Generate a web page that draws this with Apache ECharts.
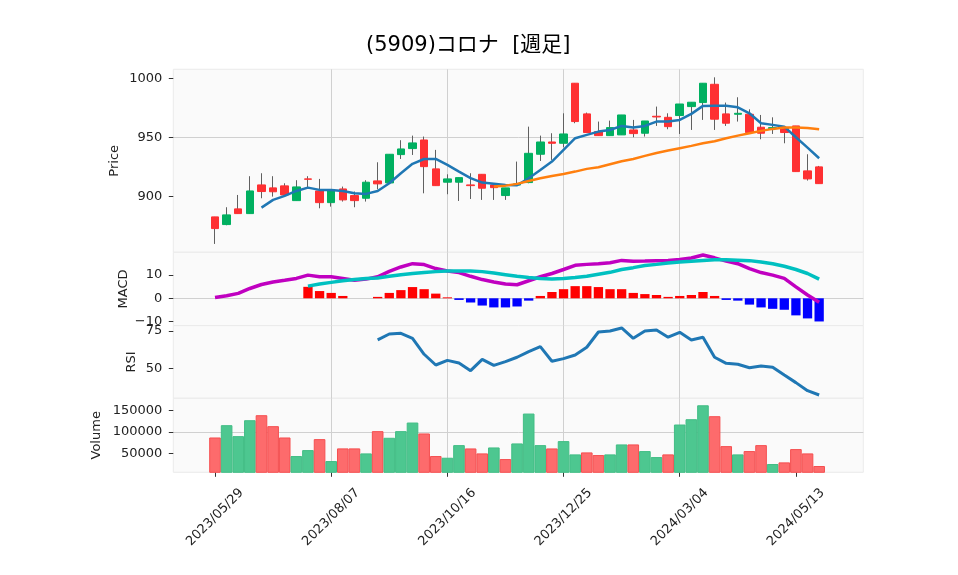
<!DOCTYPE html>
<html>
<head>
<meta charset="utf-8">
<script src="https://cdn.jsdelivr.net/npm/echarts@6/dist/echarts.min.js"></script>
<style>
html, body { margin: 0; padding: 0; background: #fff; }
#chart { width: 958px; height: 575px; }
</style>
</head>
<body>
<div id="chart"></div>
<script>
var dates = [
    '2023/05/29', '2023/06/05', '2023/06/12', '2023/06/19', '2023/06/26', '2023/07/03', '2023/07/10', '2023/07/17',
    '2023/07/24', '2023/07/31', '2023/08/07', '2023/08/14', '2023/08/21', '2023/08/28', '2023/09/04', '2023/09/11',
    '2023/09/18', '2023/09/25', '2023/10/02', '2023/10/09', '2023/10/16', '2023/10/23', '2023/10/30', '2023/11/06',
    '2023/11/13', '2023/11/20', '2023/11/27', '2023/12/04', '2023/12/11', '2023/12/18', '2023/12/25', '2024/01/01',
    '2024/01/08', '2024/01/15', '2024/01/22', '2024/01/29', '2024/02/05', '2024/02/12', '2024/02/19', '2024/02/26',
    '2024/03/04', '2024/03/11', '2024/03/18', '2024/03/25', '2024/04/01', '2024/04/08', '2024/04/15', '2024/04/22',
    '2024/04/29', '2024/05/06', '2024/05/13', '2024/05/20', '2024/05/27'
];
var tickIdx = [0, 10, 20, 30, 40, 50];

var openP = [882.5, 876.0, 889.3, 885.3, 909.6, 907.1, 908.8, 896.3, 914.7, 904.5, 894.6, 906.2, 900.6, 898.3, 913.0, 911.3,
    935.3, 940.4, 947.7, 923.2, 911.9, 911.9, 909.6, 918.6, 909.6, 900.6, 909.5, 911.6, 935.6, 946.0, 944.9, 995.8,
    969.8, 954.8, 951.4, 952.0, 956.2, 953.4, 967.8, 966.9, 968.4, 976.0, 979.4, 994.9, 969.8, 969.5, 969.5, 958.5,
    957.3, 957.6, 959.6, 921.5, 924.9];
var closeP = [872.6, 884.2, 885.3, 904.5, 904.0, 903.8, 901.1, 907.9, 914.4, 894.6, 904.5, 896.9, 896.3, 911.9, 910.5, 935.6,
    940.1, 945.2, 925.1, 909.0, 914.7, 915.8, 909.0, 906.8, 907.3, 907.1, 910.5, 936.4, 946.0, 944.9, 952.8, 963.3,
    954.0, 951.4, 958.2, 968.9, 953.1, 963.8, 967.2, 959.0, 978.2, 979.7, 995.8, 965.3, 961.9, 970.3, 954.0, 953.4,
    958.2, 954.0, 920.9, 914.7, 910.7];
var lowP = [859.6, 875.4, 885.3, 885.3, 898.3, 899.7, 901.1, 896.3, 907.6, 889.8, 891.2, 895.5, 890.7, 895.5, 905.9, 911.3,
    931.6, 935.0, 902.5, 909.0, 901.7, 896.0, 897.7, 896.9, 896.9, 896.9, 909.0, 911.0, 929.9, 930.8, 941.5, 961.9,
    954.0, 951.4, 951.4, 952.0, 950.0, 950.6, 959.6, 956.8, 952.8, 956.2, 964.7, 956.2, 959.6, 963.3, 954.0, 948.3,
    952.8, 944.9, 920.9, 913.3, 910.7];
var highP = [882.5, 890.7, 901.1, 917.0, 919.5, 917.0, 911.0, 913.6, 917.0, 914.7, 904.5, 908.2, 904.0, 913.6, 928.8, 935.6,
    947.5, 951.4, 950.6, 939.3, 918.6, 915.8, 919.5, 918.6, 909.6, 907.1, 929.4, 959.0, 951.4, 953.4, 970.3, 995.8,
    970.9, 963.3, 964.1, 968.9, 964.7, 963.8, 976.0, 970.3, 978.2, 979.7, 995.8, 1000.8, 979.4, 983.9, 973.7, 968.9,
    966.9, 957.6, 959.6, 935.6, 925.7];
var volume = [86900, 115400, 90000, 126900, 138500, 113100, 86900, 43900, 57700, 83100, 32300, 61600, 61600, 50000,
    101600, 86200, 101600, 121500, 96200, 43900, 40000, 69200, 61500, 50000, 63800, 36900, 73100, 142300, 69200,
    61500, 78500, 47700, 52300, 46200, 47700, 70800, 70800, 55400, 41500, 47700, 116900, 129200, 161500, 136200,
    66900, 47700, 55400, 69200, 25400, 29200, 60000, 50000, 20800];

var ma5 = [null, null, null, null, 890.4, 896.9, 900.3, 904.5, 907.3, 905.4, 905.4, 904.5, 902.5, 902.0, 904.5, 911.0,
    919.5, 927.5, 931.6, 931.6, 926.6, 920.9, 915.3, 911.6, 910.7, 909.6, 909.3, 915.3, 922.3, 929.4, 939.3, 949.2,
    952.0, 954.8, 956.2, 959.6, 958.2, 959.6, 963.3, 963.3, 964.7, 969.8, 976.6, 976.8, 976.8, 975.4, 970.3, 961.9,
    960.5, 959.0, 950.0, 941.2, 932.2];
var ma25 = [null, null, null, null, null, null, null, null, null, null, null, null, null, null, null, null,
    null, null, null, null, null, null, null, null, 908.2, 909.0, 910.5, 913.0, 915.3, 917.2, 918.9, 920.9,
    923.2, 924.6, 927.1, 929.6, 931.6, 934.2, 936.7, 938.7, 940.7, 942.7, 944.9, 946.6, 949.2, 951.4, 953.4, 955.4,
    957.1, 958.2, 958.2, 957.9, 956.8];

var macd = [0.3, 1.1, 2.1, 4.2, 5.9, 7.0, 7.7, 8.5, 9.9, 9.2, 9.2, 8.5, 7.7, 8.2, 9.2, 11.5, 13.4, 14.8, 14.4, 12.7,
    11.7, 11.0, 9.4, 8.0, 7.0, 6.1, 5.8, 7.5, 9.2, 10.6, 12.3, 14.1, 14.5, 14.8, 15.2, 16.2, 15.8, 15.9, 16.1, 16.2,
    16.6, 17.2, 18.5, 17.3, 15.9, 14.8, 12.7, 11.0, 9.9, 8.5, 4.9, 1.4, -1.7];
var signal = [null, null, null, null, null, null, null, null, 5.2, 6.1, 6.8, 7.5, 8.0, 8.5, 8.7, 9.4, 10.1, 10.6, 11.0,
    11.4, 11.7, 11.7, 11.7, 11.4, 10.8, 10.1, 9.4, 8.9, 8.5, 8.3, 8.5, 8.9, 9.4, 10.3, 11.1, 12.3, 13.1, 14.0, 14.5,
    15.1, 15.5, 15.8, 16.2, 16.5, 16.5, 16.3, 16.1, 15.5, 14.8, 13.7, 12.3, 10.6, 8.2];
var hist = [null, null, null, null, null, null, null, null, 4.9, 3.1, 2.3, 1.0, 0, 0, 0.6, 2.3, 3.5, 4.8, 3.9, 2.0,
    0.4, -0.7, -1.8, -3.1, -3.9, -3.9, -3.5, -1.0, 1.0, 2.7, 3.9, 5.2, 5.2, 4.8, 3.9, 3.9, 2.3, 1.8, 1.4, 0.6,
    1.0, 1.4, 2.7, 1.0, -0.7, -1.0, -2.7, -3.9, -4.5, -4.9, -7.3, -8.6, -9.9];
var rsi = [null, null, null, null, null, null, null, null, null, null, null, null, null, null, 69.0, 73.0, 73.4, 70.1,
    59.4, 52.2, 55.3, 53.5, 48.4, 56.0, 52.0, 54.5, 57.4, 61.2, 64.5, 54.7, 56.5, 58.9, 64.1, 74.3, 75.0, 77.0,
    70.1, 75.0, 75.7, 70.8, 74.1, 69.0, 70.8, 57.4, 53.3, 52.7, 50.4, 51.6, 50.7, 45.5, 40.4, 35.0, 32.1];

var priceTicks = [900, 950, 1000];
var macdTicks = [-10, 0, 10];
var rsiTicks = [50, 75];
var volumeTicks = [50000, 100000, 150000];

(function () {
    'use strict';

    var FONT = "'DejaVu Sans', 'Noto Sans CJK JP', sans-serif";
    var GRID_COLOR = '#d0d0d0';
    var TEXT_COLOR = '#222';
    var X_MIN = -3.59;
    var X_MAX = 55.8;

    var chart = echarts.init(document.getElementById('chart'), null, {renderer: 'canvas'});
    chart.setOption(buildOption());

    function toXY(arr) {
        var out = [];
        for (var i = 0; i < arr.length; i++) {
            if (arr[i] !== null && arr[i] !== undefined) {
                out.push([i, arr[i]]);
            }
        }
        return out;
    }

    function fmtNum(v) {
        return v < 0 ? '\u2212' + (-v) : String(v);
    }

    function buildGrid(top, height) {
        return {
            left: 173.3, right: 94.7, top: top, height: height,
            show: true, backgroundColor: '#fafafa', borderColor: '#ebebeb', borderWidth: 1,
            containLabel: false, outerBoundsMode: 'none'
        };
    }

    function buildXAxis(gridIndex, withLabels) {
        return {
            type: 'value', gridIndex: gridIndex, min: X_MIN, max: X_MAX,
            minInterval: 10, maxInterval: 10,
            axisLine: {show: false, onZero: false},
            axisTick: {
                show: withLabels, customValues: tickIdx, length: 4.5,
                lineStyle: {color: '#333', width: 1}
            },
            axisLabel: {
                show: withLabels, customValues: tickIdx, rotate: 45, align: 'center', verticalAlign: 'middle',
                margin: 45, fontSize: 13, color: TEXT_COLOR, fontFamily: FONT,
                formatter: function (v) {
                    return tickIdx.indexOf(v) >= 0 ? dates[v] : '';
                }
            },
            splitLine: {show: true, showMinLine: false, showMaxLine: false, lineStyle: {color: GRID_COLOR, width: 1}}
        };
    }

    function buildYAxis(gridIndex, name, nameGap, min, max, step, ticks) {
        return {
            type: 'value', gridIndex: gridIndex, min: min, max: max,
            minInterval: step, maxInterval: step,
            name: name, nameLocation: 'middle', nameRotate: 90, nameGap: nameGap, nameMoveOverlap: false,
            nameTextStyle: {fontSize: 13, color: TEXT_COLOR, fontFamily: FONT},
            axisLine: {show: false, onZero: false},
            axisTick: {show: true, customValues: ticks, length: 4.5, lineStyle: {color: '#333', width: 1}},
            axisLabel: {
                show: true, customValues: ticks, margin: 11, fontSize: 13, color: TEXT_COLOR, fontFamily: FONT,
                formatter: function (v) {
                    return ticks.indexOf(v) >= 0 ? fmtNum(v) : '';
                }
            },
            splitLine: {show: true, showMinLine: false, showMaxLine: false, lineStyle: {color: GRID_COLOR, width: 1}}
        };
    }

    function buildCandles() {
        var wicks = [], bodies = [];
        for (var i = 0; i < dates.length; i++) {
            wicks.push([i, openP[i], closeP[i], lowP[i], highP[i]]);
            bodies.push([i, openP[i], closeP[i], Math.min(openP[i], closeP[i]), Math.max(openP[i], closeP[i])]);
        }
        return {wicks: wicks, bodies: bodies};
    }

    function buildVolume() {
        var out = [];
        for (var i = 0; i < volume.length; i++) {
            var up = i === 0 ? closeP[i] >= openP[i] : closeP[i] >= closeP[i - 1];
            out.push({
                value: [i, volume[i]],
                itemStyle: {
                    color: up ? '#4dc790' : '#fd6b6c',
                    borderColor: up ? '#42bd85' : '#f54f50',
                    borderWidth: 1
                }
            });
        }
        return out;
    }

    function buildHist() {
        var out = [];
        for (var i = 0; i < hist.length; i++) {
            if (hist[i] === null) {
                continue;
            }
            out.push({
                value: [i, hist[i]],
                itemStyle: {color: hist[i] >= 0 ? '#ff0000' : '#0000ff'}
            });
        }
        return out;
    }

    function lineSerie(data, xi, yi, color, width) {
        return {
            type: 'line', xAxisIndex: xi, yAxisIndex: yi, data: toXY(data),
            showSymbol: false, symbol: 'none', smooth: false,
            lineStyle: {color: color, width: width}, z: 5
        };
    }

    function buildOption() {
        var candles = buildCandles();
        return {
            animation: false,
            backgroundColor: '#ffffff',
            textStyle: {fontFamily: FONT},
            title: {
                text: '(5909)コロナ  [週足]',
                left: 361, top: 30,
                textStyle: {fontSize: 21, fontWeight: 'normal', color: '#000', fontFamily: FONT}
            },
            grid: [
                buildGrid(69.3, 183),
                buildGrid(252.3, 73.3),
                buildGrid(325.6, 72.7),
                buildGrid(398.3, 74)
            ],
            xAxis: [
                buildXAxis(0, false),
                buildXAxis(1, false),
                buildXAxis(2, false),
                buildXAxis(3, true)
            ],
            yAxis: [
                buildYAxis(0, 'Price', 51.8, 852.5, 1007.6, 50, priceTicks),
                buildYAxis(1, 'MACD', 43.3, -11.67, 19.66, 10, macdTicks),
                buildYAxis(2, 'RSI', 35.3, 29.9, 78.6, 25, rsiTicks),
                buildYAxis(3, 'Volume', 70.3, 6240, 177650, 50000, volumeTicks)
            ],
            series: [
                {
                    type: 'candlestick', xAxisIndex: 0, yAxisIndex: 0, data: candles.wicks, barWidth: 1,
                    itemStyle: {
                        color: '#606060', color0: '#606060', borderColor: '#606060',
                        borderColor0: '#606060', borderColorDoji: '#606060', borderWidth: 1
                    },
                    z: 2
                },
                {
                    type: 'candlestick', xAxisIndex: 0, yAxisIndex: 0, data: candles.bodies, barWidth: 8,
                    itemStyle: {
                        color: '#00b060', color0: '#fe3032', borderColor: '#00b060',
                        borderColor0: '#fe3032', borderColorDoji: '#fe3032', borderWidth: 1
                    },
                    z: 3
                },
                lineSerie(ma5, 0, 0, '#1f77b4', 2.5),
                lineSerie(ma25, 0, 0, '#ff7f0e', 2.5),
                {
                    type: 'bar', xAxisIndex: 1, yAxisIndex: 1, data: buildHist(), barWidth: 9.3, z: 2
                },
                lineSerie(macd, 1, 1, '#c000c0', 3.5),
                lineSerie(signal, 1, 1, '#00c0c0', 3.5),
                lineSerie(rsi, 2, 2, '#1f77b4', 3),
                {
                    type: 'bar', xAxisIndex: 3, yAxisIndex: 3, data: buildVolume(), barWidth: 11.62, z: 2
                }
            ]
        };
    }
})();
</script>
</body>
</html>
